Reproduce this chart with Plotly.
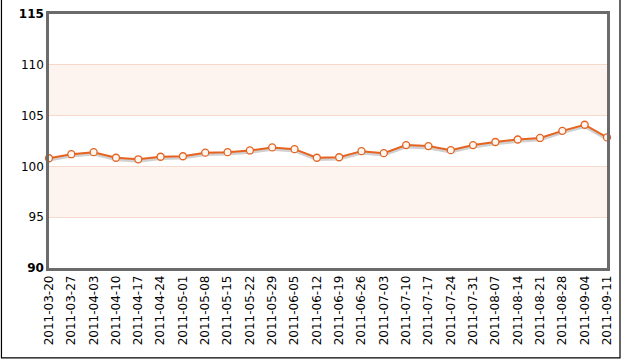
import plotly.graph_objects as go

dates = ["2011-03-20", "2011-03-27", "2011-04-03", "2011-04-10", "2011-04-17", "2011-04-24",
         "2011-05-01", "2011-05-08", "2011-05-15", "2011-05-22", "2011-05-29", "2011-06-05",
         "2011-06-12", "2011-06-19", "2011-06-26", "2011-07-03", "2011-07-10", "2011-07-17",
         "2011-07-24", "2011-07-31", "2011-08-07", "2011-08-14", "2011-08-21", "2011-08-28",
         "2011-09-04", "2011-09-11"]
values = [100.8, 101.2, 101.4, 100.85, 100.7, 100.95,
          101.0, 101.35, 101.4, 101.57, 101.87, 101.7,
          100.85, 100.9, 101.5, 101.3, 102.1, 102.0,
          101.6, 102.1, 102.4, 102.65, 102.8, 103.5,
          104.1, 102.85]
y_ticks = [90, 95, 100, 105, 110, 115]
y_ticktext = ["<b>90</b>", "95", "100", "105", "110", "<b>115</b>"]
bands = [(95, 100), (105, 110)]

fig = go.Figure()
# soft shadow under the line
fig.add_trace(go.Scatter(
    x=dates, y=[v - 0.18 for v in values], mode="lines",
    line=dict(color="rgba(120,120,120,0.35)", width=3),
    hoverinfo="skip", showlegend=False, cliponaxis=False))
fig.add_trace(go.Scatter(
    x=dates, y=values, mode="lines+markers",
    line=dict(color="#E5621F", width=2),
    marker=dict(size=7, color="#FFF6F0", line=dict(color="#E5621F", width=1.3)),
    showlegend=False, cliponaxis=False))

for lo, hi in bands:
    fig.add_shape(type="rect", xref="paper", yref="y", x0=0, x1=1, y0=lo, y1=hi,
                  fillcolor="#FDF3EF", line=dict(width=0), layer="below")

# outer frame (left, right, bottom)
fig.add_shape(type="path", xref="paper", yref="paper",
              path="M -0.0852,1.06 L -0.0852,-0.354 L 1.0233,-0.354 L 1.0233,1.06",
              line=dict(color="#000000", width=1.2), layer="above")

fig.update_layout(
    width=624, height=361,
    margin=dict(l=49, r=17, t=14, b=93),
    paper_bgcolor="white", plot_bgcolor="white",
    font=dict(family="DejaVu Sans, Verdana, sans-serif", size=11, color="#000000"),
    xaxis=dict(type="category", range=[0, len(dates) - 1], tickangle=-90,
               showgrid=False, showline=True, linecolor="#6B6B6B", linewidth=2.5,
               mirror=True, ticks="", tickfont=dict(size=12), zeroline=False,
               automargin=False),
    yaxis=dict(range=[90, 115], tickvals=y_ticks, ticktext=y_ticktext,
               showgrid=True, gridcolor="#F7D9CC", gridwidth=1,
               showline=True, linecolor="#6B6B6B", linewidth=2.5, mirror=True,
               ticks="", tickfont=dict(size=12), zeroline=False,
               automargin=False),
)

fig.write_html("out.html", config={"displayModeBar": False},
               post_script="document.body.style.margin='0';")
